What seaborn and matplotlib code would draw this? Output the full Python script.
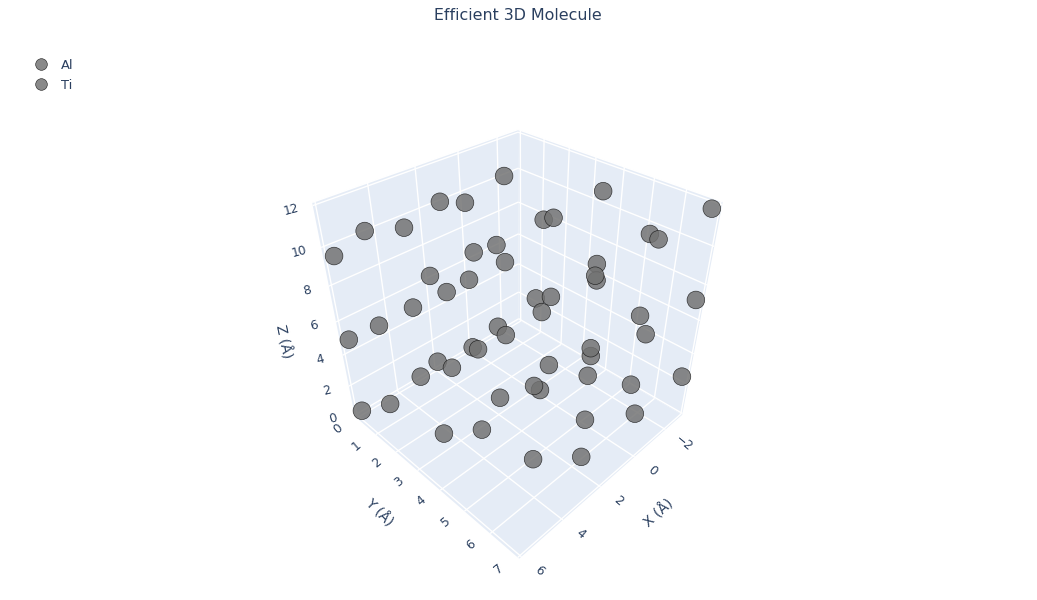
import numpy as np
import pandas as pd
import seaborn as sns
from matplotlib import pyplot as plt

X = [-0.97, 2.12, 1.25, 5.21, 3.92, 5.9, 1.03, 2.04, 1.03, 3.95, 3.57, 2.73, 4.43, 5.25, 2.16, 2.11, -2.1, -2.83,
     -0.68, -0.83, -1.44, -1.4, -0.24, 0.01, -0.0, 0.95, 0.79, 1.06, -2.85, -1.16, -1.39, 5.92, 2.96, 2.92, 3.96,
     3.76, 4.44, 5.39, 5.93, 5.16, 4.57, 3.69, 0.02, 0.0, 1.63, 0.45, -1.15, -2.85, 2.64, 2.53, 1.5, -0.75, 4.13, 2.32]
Y = [1.01, 1.0, 1.24, 0.98, 1.23, 0.2, 2.28, 2.22, 2.61, 2.18, 2.44, 2.6, 1.8, 1.02, 3.2, 3.47, 3.96, 6.92,
     2.81, 3.07, 5.92, 6.21, 5.03, 5.15, 5.2, 3.74, 4.18, 4.05, 6.93, 6.07, 6.21, 0.17, 2.81, 3.0, 2.17,
     2.6, 1.8, 1.15, 0.16, 3.42, 4.49, 4.49, 5.19, 5.2, 4.76, 5.41, 6.06, 6.93, 4.95, 5.09, 6.05, 6.51, 6.04, 6.5]
Z = [11.02, 11.02, 10.72, 11.05, 10.73, 9.67, 9.06, 9.17, 8.37, 8.99, 8.12, 8.39, 7.31, 6.18, 5.91, 5.63, 11.36, 11.89,
     9.88, 10.07, 10.75, 10.7, 9.29, 8.92, 8.71, 7.18, 7.52, 6.74, 7.27, 6.77, 5.68, 5.07, 4.91, 4.94, 4.17,
     4.07, 3.24, 1.55, 0.45, 2.0, 2.98, 4.15, 4.93, 4.45, 4.72, 3.79, 2.6, 2.65, 4.47, 4.28, 2.61, 1.51, 2.63, 1.54]
element = ["Al", "Ti"] * 27

x_ticks = [-2, 0, 2, 4, 6]
y_ticks = [0, 1, 2, 3, 4, 5, 6, 7]
z_ticks = [0, 2, 4, 6, 8, 10, 12]
x_range = (-3.15, 6.1)
y_range = (-0.1, 7.05)
z_range = (-0.1, 12.15)

INK = "#2a3f5f"
PANE = "#E5ECF6"

# camera fitted on the box corners: (x, y, z as 0..1) -> screen pixel
cube = np.array([[1, 0, 0], [1, 1, 0], [0, 1, 0], [0, 0, 0], [1, 0, 1], [0, 0, 1], [0, 1, 1]], float)
screen = np.array([[356, 418], [518, 558], [683, 415], [518, 319], [312, 201], [518, 130], [723, 202]], float)
rows = []
for (u, v, w), (a, b) in zip(cube, screen):
    rows.append([u, v, w, 1, 0, 0, 0, 0, -a * u, -a * v, -a * w, -a])
    rows.append([0, 0, 0, 0, u, v, w, 1, -b * u, -b * v, -b * w, -b])
cam = np.linalg.svd(np.array(rows))[2][-1].reshape(3, 4)


def project(x, y, z):
    u = (np.asarray(x, float) - x_range[0]) / (x_range[1] - x_range[0])
    v = (np.asarray(y, float) - y_range[0]) / (y_range[1] - y_range[0])
    w = (np.asarray(z, float) - z_range[0]) / (z_range[1] - z_range[0])
    p = cam @ np.array([u, v, w, np.ones_like(u)])
    return p[0] / p[2], p[1] / p[2], p[2]


sns.set_theme(style="white")
plt.rcParams["font.family"] = ["DejaVu Sans"]
fig = plt.figure(figsize=(10.37, 6), dpi=100)
ax = fig.add_axes([0, 0, 1, 1])
ax.set_xlim(0, 1037)
ax.set_ylim(600, 0)
ax.axis("off")

x0, x1 = x_range
y0, y1 = y_range
z0, z1 = z_range


def pane(xs, ys, zs):
    sx, sy, _ = project(xs, ys, zs)
    ax.fill(sx, sy, color=PANE, lw=0, zorder=1)


def line(xs, ys, zs, lw=1.0):
    sx, sy, _ = project(xs, ys, zs)
    ax.plot(sx, sy, color="white", lw=lw, zorder=2, solid_capstyle="butt")


pane([x0, x1, x1, x0], [y0, y0, y1, y1], [z0, z0, z0, z0])
pane([x0, x1, x1, x0], [y0, y0, y0, y0], [z0, z0, z1, z1])
pane([x0, x0, x0, x0], [y0, y1, y1, y0], [z0, z0, z1, z1])

for t in x_ticks:
    line([t, t], [y0, y1], [z0, z0])
    line([t, t], [y0, y0], [z0, z1])
for t in y_ticks:
    line([x0, x1], [t, t], [z0, z0])
    line([x0, x0], [t, t], [z0, z1])
for t in z_ticks:
    line([x0, x1], [y0, y0], [t, t])
    line([x0, x0], [y0, y1], [t, t])
line([x0, x1], [y0, y0], [z1, z1], lw=1.2)
line([x0, x0], [y0, y1], [z1, z1], lw=1.2)

# atoms, far ones first
sx, sy, depth = project(X, Y, Z)
atoms = pd.DataFrame({"sx": sx, "sy": sy, "depth": depth, "element": element})
atoms = atoms.sort_values("depth", ascending=False)
sns.scatterplot(data=atoms, x="sx", y="sy", hue="element", hue_order=["Al", "Ti"],
                palette={"Al": "#727272", "Ti": "#727272"}, s=162, alpha=0.84,
                edgecolor="#111111", linewidth=0.45, ax=ax, zorder=3, legend=True)
ax.set_xlabel("")
ax.set_ylabel("")

tick_size = 8.8
for t in x_ticks:
    a, b, _ = project(t, y1, z0)
    ax.text(a + 18, b + 14, str(t).replace("-", "\u2212"), color=INK, fontsize=tick_size,
            rotation=-40, ha="center", va="center")
for t in y_ticks:
    a, b, _ = project(x1, t, z0)
    ax.text(a - 19, b + 11, str(t), color=INK, fontsize=tick_size, rotation=40, ha="center", va="center")
for t in z_ticks:
    a, b, _ = project(x1, y0, t)
    ax.text(a - 22, b + 4, str(t), color=INK, fontsize=tick_size, rotation=15, ha="center", va="center")

ax.text(283, 342, "Z (Å)", color=INK, fontsize=10, rotation=-78, ha="center", va="center")
ax.text(379, 513, "Y (Å)", color=INK, fontsize=10, rotation=-45, ha="center", va="center")
ax.text(659, 513, "X (Å)", color=INK, fontsize=10, rotation=42, ha="center", va="center")

ax.text(518, 15, "Efficient 3D Molecule", color=INK, fontsize=11.4, ha="center", va="center")

sns.move_legend(ax, "upper left", bbox_to_anchor=(28 / 1037, 1 - 59 / 600), title=None, frameon=False,
                markerscale=0.66, fontsize=9.4, labelspacing=0.5, handletextpad=0.5, labelcolor=INK,
                borderpad=0, borderaxespad=0)

fig.savefig("out.png", dpi=100)
